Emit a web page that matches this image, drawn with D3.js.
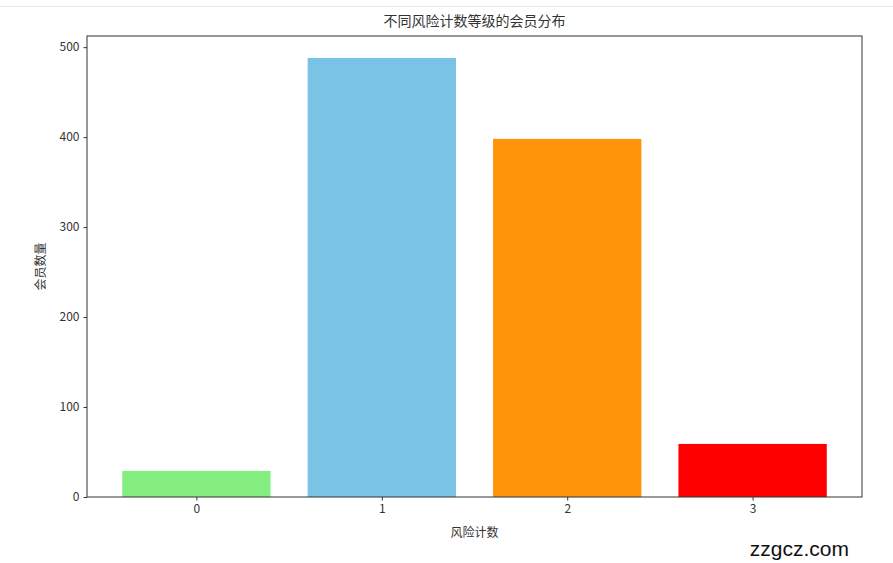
<!DOCTYPE html>
<html>
<head>
<meta charset="utf-8">
<script src="https://cdn.jsdelivr.net/npm/d3@7"></script>
<style>
  body { margin: 0; background: #fff; }
  svg { display: block; }
  text { font-family: "Noto Sans CJK SC", "DejaVu Sans", sans-serif; }
</style>
</head>
<body>
<div id="chart"></div>
<script>
// data
var categories = ["0", "1", "2", "3"];
var counts = [29, 488, 398, 59];
var barColors = ["#84ee80", "#7ac2e6", "#ff940a", "#ff0000"];
var yTicks = [0, 100, 200, 300, 400, 500];

var width = 893, height = 563;
var margin = { top: 36, right: 31, bottom: 66, left: 87 };
var plotW = width - margin.left - margin.right;
var plotH = height - margin.top - margin.bottom;

var svg = d3.select("#chart").append("svg")
    .attr("width", width)
    .attr("height", height);

// faint page line at the top
svg.append("line")
    .attr("x1", 0).attr("x2", width)
    .attr("y1", 6.5).attr("y2", 6.5)
    .style("stroke", "#e6e8ea");

var g = svg.append("g")
    .attr("transform", `translate(${margin.left}, ${margin.top})`);

// matplotlib style limits: bars of width 0.8 with 5% margins
var n = categories.length;
var xMin = -0.4, xMax = n - 1 + 0.4;
var pad = (xMax - xMin) * 0.05;
var x = d3.scaleLinear()
    .domain([xMin - pad, xMax + pad])
    .range([0, plotW]);

var yMax = d3.max(counts) * 1.05;
var y = d3.scaleLinear()
    .domain([0, yMax])
    .range([plotH, 0]);

g.selectAll("rect.bar")
    .data(counts)
    .enter().append("rect")
    .attr("class", "bar")
    .attr("x", function (d, i) { return x(i - 0.4); })
    .attr("width", function (d, i) { return x(i + 0.4) - x(i - 0.4); })
    .attr("y", function (d) { return y(d); })
    .attr("height", function (d) { return plotH - y(d); })
    .style("fill", function (d, i) { return barColors[i]; });

// axes
var xAxis = d3.axisBottom(x)
    .tickValues(d3.range(n))
    .tickFormat(function (d) { return categories[d]; })
    .tickSize(3.5)
    .tickPadding(4);

var yAxis = d3.axisLeft(y)
    .tickValues(yTicks)
    .tickSize(3.5)
    .tickPadding(4);

var gx = g.append("g")
    .attr("transform", `translate(0, ${plotH})`)
    .call(xAxis);
var gy = g.append("g").call(yAxis);

[gx, gy].forEach(function (a) {
    a.select(".domain").remove();
    a.selectAll(".tick line").style("stroke", "#333").style("stroke-width", 1);
    a.selectAll(".tick text")
        .style("font-size", "12px")
        .style("fill", "#333");
});

// frame
g.append("rect")
    .attr("width", plotW)
    .attr("height", plotH)
    .style("fill", "none")
    .style("stroke", "#333")
    .style("stroke-width", 1);

// title and labels
svg.append("text")
    .attr("x", margin.left + plotW / 2)
    .attr("y", 26)
    .attr("text-anchor", "middle")
    .style("font-size", "14px")
    .style("fill", "#333")
    .text("不同风险计数等级的会员分布");

svg.append("text")
    .attr("x", margin.left + plotW / 2)
    .attr("y", 537)
    .attr("text-anchor", "middle")
    .style("font-size", "12px")
    .style("fill", "#333")
    .text("风险计数");

svg.append("text")
    .attr("transform", `translate(45, ${margin.top + plotH / 2}) rotate(-90)`)
    .attr("text-anchor", "middle")
    .style("font-size", "12px")
    .style("fill", "#333")
    .text("会员数量");

// watermark
svg.append("text")
    .attr("x", 849)
    .attr("y", 556)
    .attr("text-anchor", "end")
    .style("font-family", "'Liberation Sans', Arial, sans-serif")
    .style("font-size", "21px")
    .style("fill", "#111")
    .text("zzgcz.com");
</script>
</body>
</html>
